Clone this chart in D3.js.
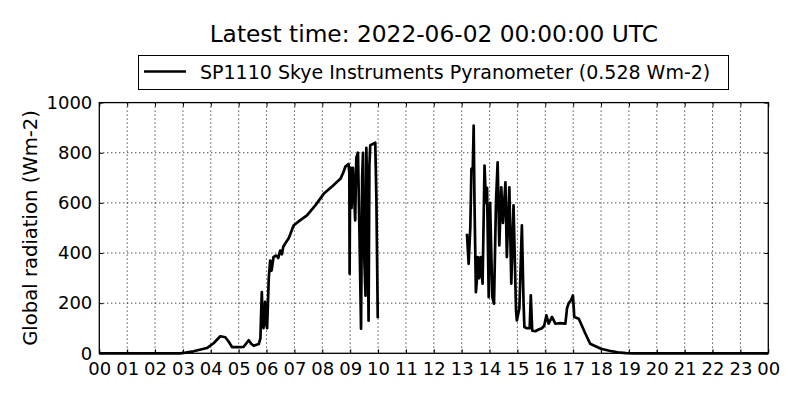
<!DOCTYPE html>
<html><head><meta charset="utf-8">
<script src="https://cdn.jsdelivr.net/npm/d3@7"></script>
<style>body{margin:0;background:#fff}svg{display:block}text{font-family:"DejaVu Sans",sans-serif;fill:#000}</style>
</head><body><svg id="c" width="800" height="400"></svg>
<script>
const titleText = "Latest time: 2022-06-02 00:00:00 UTC";
const seriesName = "SP1110 Skye Instruments Pyranometer (0.528 Wm-2)";
const yLabel = "Global radiation (Wm-2)";
const xTickLabels = ["00","01","02","03","04","05","06","07","08","09","10","11","12","13","14","15","16","17","18","19","20","21","22","23","00"];
const yTicks = [0,200,400,600,800,1000];
// time in hours of day, null value = data gap
const hours = [0,1,2,2.9,3.1,3.38,3.6,3.86,4.1,4.34,4.52,4.65,4.76,5.0,5.18,5.36,5.45,5.54,5.72,5.78,5.8,5.83,5.86,5.89,5.95,5.98,6.02,6.08,6.13,6.18,6.25,6.35,6.42,6.49,6.55,6.6,6.67,6.8,6.97,7.2,7.45,7.75,8.05,8.35,8.65,8.75,8.83,8.94,8.97,8.98,9.0,9.03,9.05,9.08,9.1,9.18,9.22,9.28,9.33,9.39,9.43,9.46,9.5,9.55,9.58,9.62,9.66,9.69,9.72,9.82,9.9,9.94,9.99,
 10.5,
 13.19,13.25,13.31,13.35,13.4,13.43,13.46,13.51,13.55,13.58,13.63,13.68,13.75,13.82,13.87,13.91,13.97,14.02,14.1,14.16,14.23,14.29,14.35,14.42,14.48,14.57,14.62,14.71,14.78,14.86,14.95,14.98,15.07,15.16,15.22,15.25,15.34,15.44,15.48,15.53,15.64,15.76,15.88,15.96,16.04,16.12,16.24,16.36,16.5,16.72,16.78,16.84,16.92,16.99,17.04,17.2,17.31,17.44,17.61,17.8,18.0,18.3,18.6,18.9,19.2,20,21,22,23,24];
const radiation = [0,0,0,0,3,8,14,21,40,68,64,45,25,25,26,52,38,30,37,60,140,244,140,100,205,120,100,300,370,330,384,390,380,410,395,425,438,460,510,530,550,590,636,665,696,720,745,755,720,317,730,740,580,730,740,530,780,800,500,98,700,800,400,230,820,600,130,750,830,835,840,620,140,
 null,
 477,357,503,736,740,908,600,244,300,384,300,384,278,749,600,660,224,600,224,198,600,762,430,662,520,682,384,662,278,590,171,131,180,510,200,105,100,100,231,90,88,95,100,110,151,118,145,118,120,118,180,200,211,231,145,138,111,78,38,28,18,10,4,1,0,0,0,0,0,0];

const svg = d3.select("#c");
const L=99.3, R=768.3, T=102.6, B=353.3;
const x = d3.scaleLinear().domain([0,24]).range([L,R]);
const y = d3.scaleLinear().domain([0,1000]).range([B,T]);
const tickVals = d3.range(0,25);

// grid
const g = svg.append("g");
g.selectAll(".gx").data(tickVals.slice(1,-1)).join("line")
 .attr("x1",d=>x(d)).attr("x2",d=>x(d)).attr("y1",T).attr("y2",B)
 .attr("stroke","#000").attr("stroke-width",1).attr("stroke-dasharray","1,3");
g.selectAll(".gy").data(yTicks.slice(1,-1)).join("line")
 .attr("x1",L).attr("x2",R).attr("y1",d=>y(d)).attr("y2",d=>y(d))
 .attr("stroke","#000").attr("stroke-width",1).attr("stroke-dasharray","1,3");

// data line
const data = hours.map((h,i)=>({h, v: radiation[i]}));
const line = d3.line().defined(d=>d.v!==null).x(d=>x(d.h)).y(d=>y(d.v));
svg.append("path").datum(data).attr("d",line).attr("fill","none")
 .attr("stroke","#000").attr("stroke-width",2.7).attr("stroke-linejoin","round");

// axes with inward ticks
const fs = 18;
const xa = svg.append("g").attr("transform",`translate(0,${B})`)
 .call(d3.axisBottom(x).tickValues(tickVals).tickFormat((d,i)=>xTickLabels[i]).tickSizeInner(-4).tickSizeOuter(0).tickPadding(8));
const xt = svg.append("g").attr("transform",`translate(0,${T})`)
 .call(d3.axisTop(x).tickValues(tickVals).tickFormat("").tickSizeInner(-4).tickSizeOuter(0));
const ya = svg.append("g").attr("transform",`translate(${L},0)`)
 .call(d3.axisLeft(y).tickValues(yTicks).tickFormat(d3.format("d")).tickSizeInner(-4).tickSizeOuter(0).tickPadding(7));
const yr = svg.append("g").attr("transform",`translate(${R},0)`)
 .call(d3.axisRight(y).tickValues(yTicks).tickFormat("").tickSizeInner(-4).tickSizeOuter(0));
[xa,xt,ya,yr].forEach(a=>{a.select(".domain").remove(); a.selectAll("line").attr("stroke","#000");});
svg.selectAll(".tick text").attr("font-size",fs).attr("font-family","DejaVu Sans").attr("fill","#000");
xa.selectAll(".tick text").attr("dy",null).attr("y",22);

svg.append("rect").attr("x",L).attr("y",T).attr("width",R-L).attr("height",B-T)
 .attr("fill","none").attr("stroke","#000").attr("stroke-width",1.3);

// title
svg.append("text").attr("x",(L+R)/2).attr("y",42).attr("text-anchor","middle").attr("font-size",23.3).text(titleText);
// legend
const lg = svg.append("g");
lg.append("rect").attr("x",138.5).attr("y",55.5).attr("width",590).attr("height",34).attr("fill","#fff").attr("stroke","#000").attr("stroke-width",1);
lg.append("line").attr("x1",144).attr("x2",186).attr("y1",71.5).attr("y2",71.5).attr("stroke","#000").attr("stroke-width",2.7);
lg.append("text").attr("x",200).attr("y",79).attr("font-size",19).text(seriesName);
// y label
svg.append("text").attr("transform",`translate(37,${(T+B)/2}) rotate(-90)`).attr("text-anchor","middle").attr("font-size",19.6).text(yLabel);
</script></body></html>
